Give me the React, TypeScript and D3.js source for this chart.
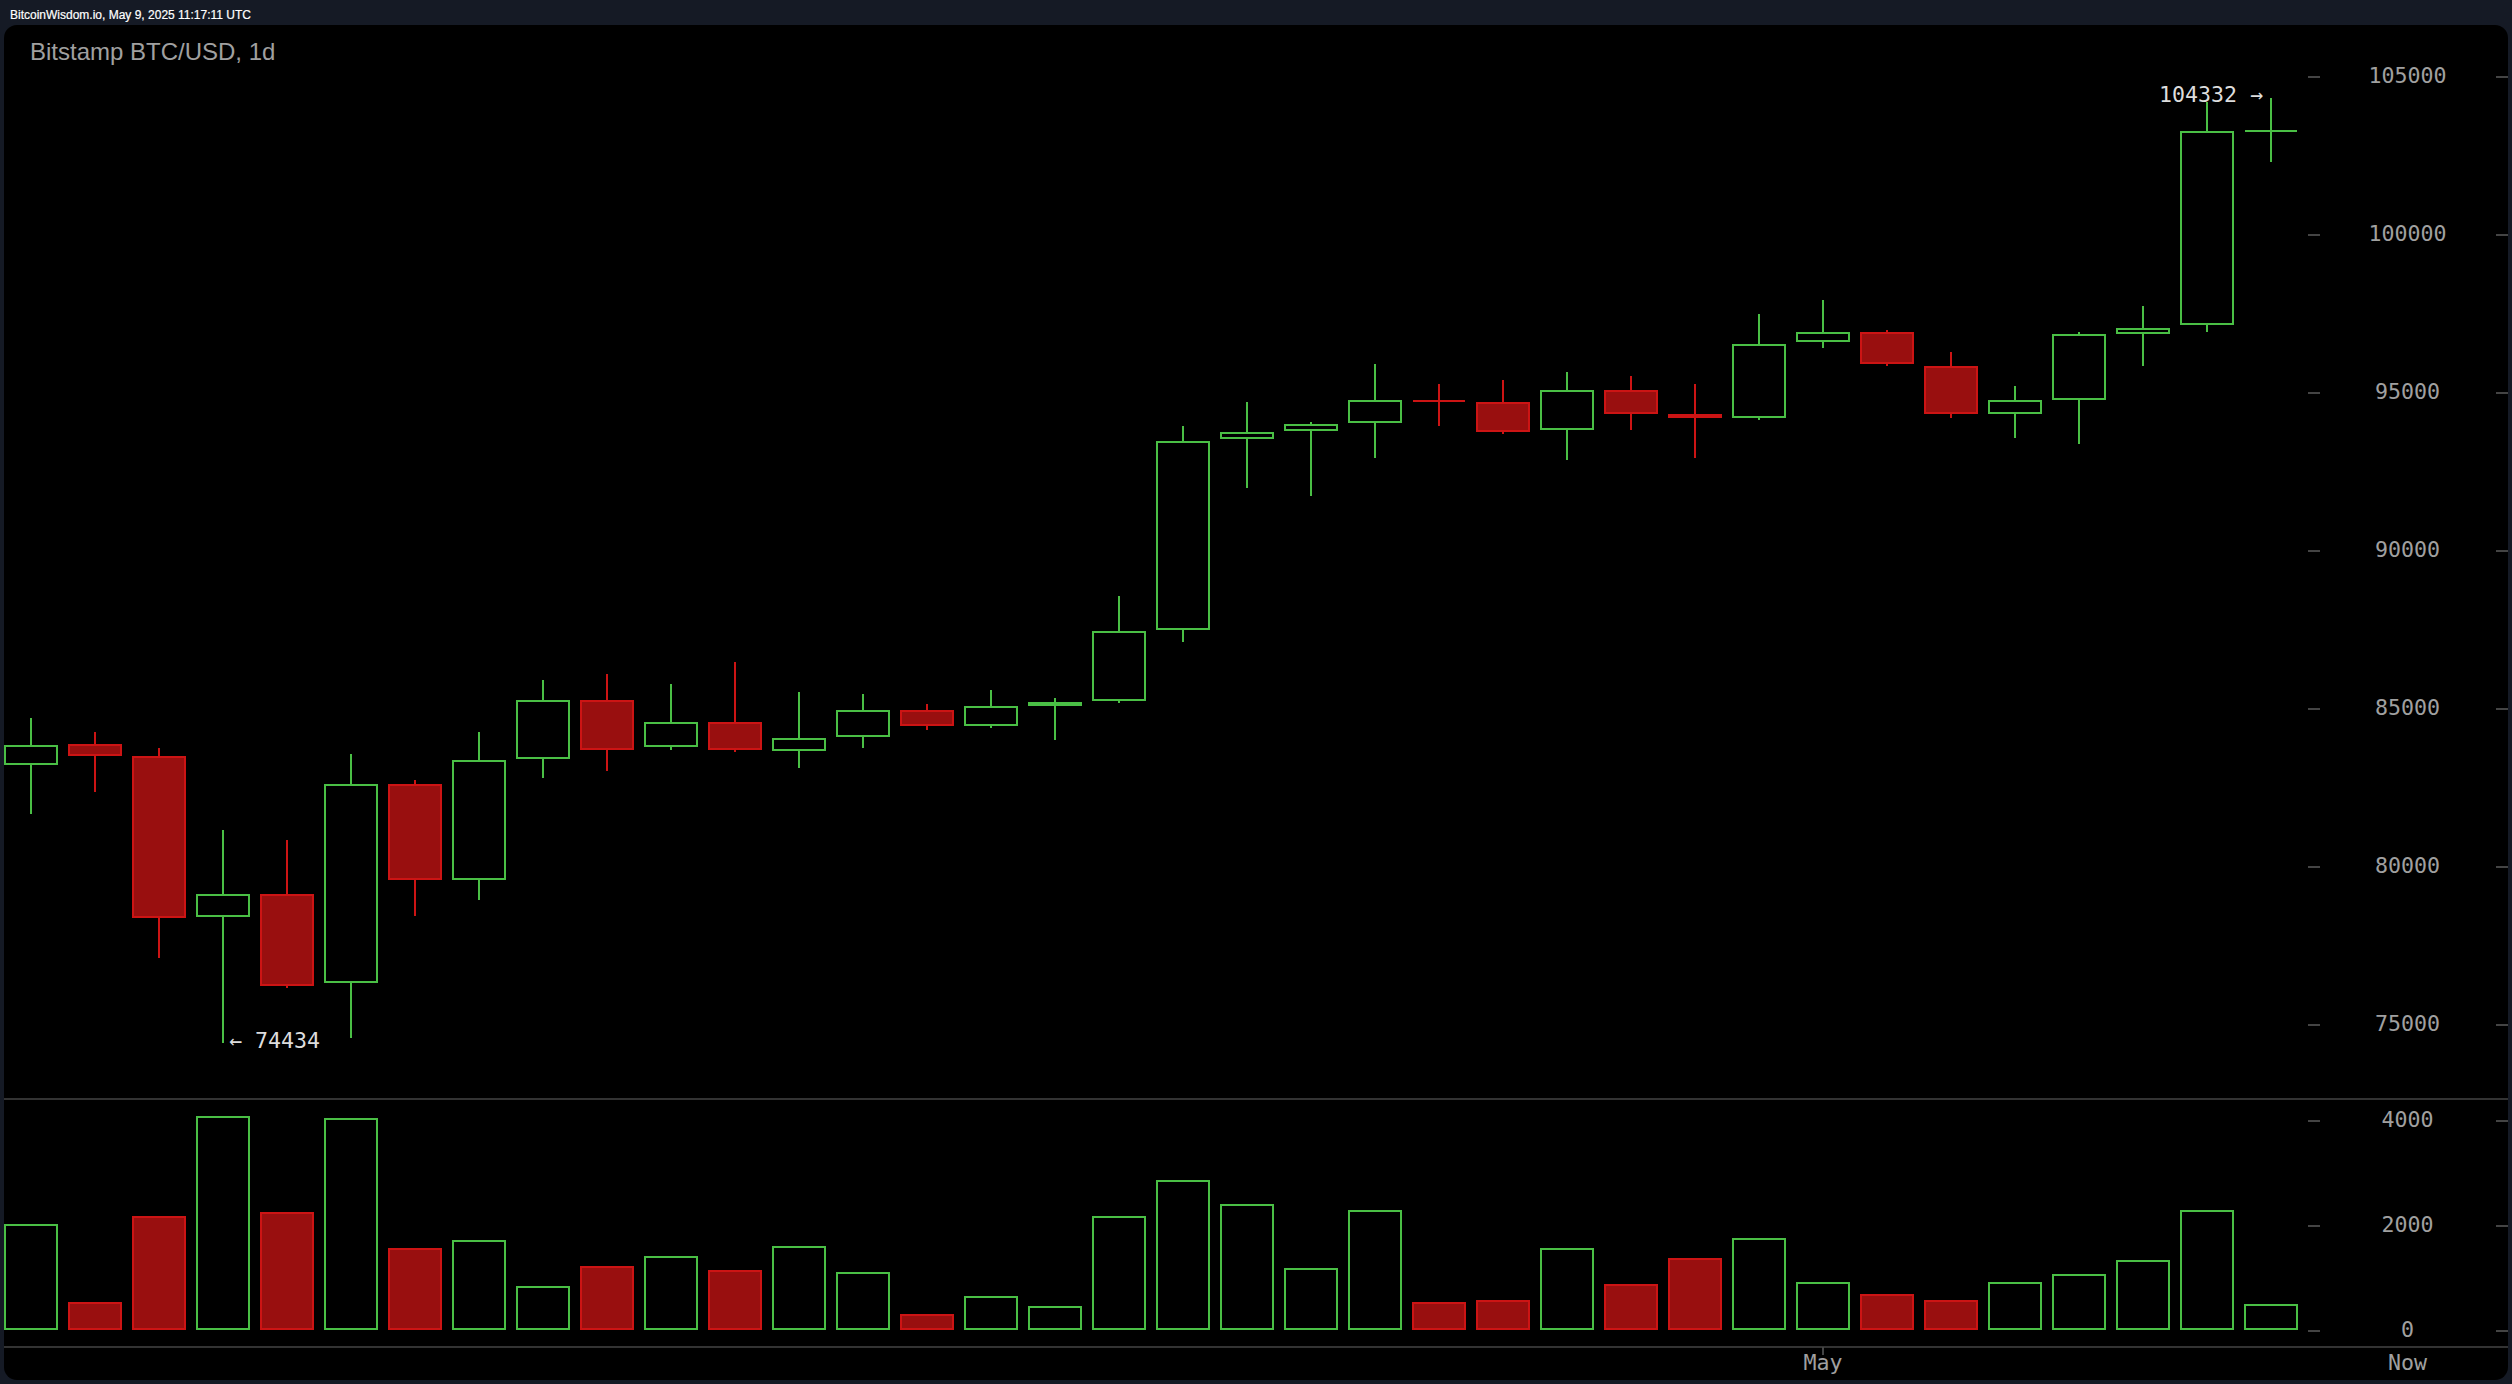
import React from "react";
import * as d3 from "d3";

const opens = [83218,83883,83503,78408,79136,76320,82617,79598,83408,85275,83788,84579,83661,84104,84959,84471,85105,85253,87512,93535,93788,94041,94760,94706,93839,95085,94335,94218,96623,96921,95845,94345,94788,96877,97146,103280];
const highs = [84715,84272,83766,81171,80854,83576,82753,84272,85918,86108,85791,86487,85538,85475,85158,85601,85348,88576,93956,94715,94082,95918,95285,95411,95665,95538,95285,97500,97943,96994,96297,95221,96930,97753,104209,104332];
const lows = [81677,82373,77120,74434,76180,74589,78449,78956,82816,83051,83703,83639,83133,83766,84335,84399,84019,85190,87108,91994,91740,92943,93956,93703,92880,93829,92943,94146,96424,95854,94209,93576,93386,95854,96943,102300];
const closes = [83870,83522,78396,79136,76243,82617,79598,83376,85275,83712,84579,83712,84073,84959,84471,85085,85212,87468,93490,93756,94009,94769,94735,93775,95085,94345,94209,96541,96921,95927,94345,94769,96858,97047,103291,103300];
const volumes = [2019,533,2171,4076,2248,4038,1562,1714,838,1219,1410,1143,1600,1105,305,648,457,2171,2857,2400,1181,2286,533,571,1562,876,1371,1752,914,686,571,914,1067,1333,2286,495];
const priceTicks = [75000,80000,85000,90000,95000,100000,105000];
const volumeTicks = [0,2000,4000];
const timeLabelIndex = 28;
const timeLabel = "May";
const nowLabel = "Now";
const title = "Bitstamp BTC/USD, 1d";
const header = "BitcoinWisdom.io, May 9, 2025 11:17:11 UTC";
const highLabel = "104332 →";
const lowLabel = "← 74434";
const highLabelIndex = 35;
const lowLabelIndex = 3;

const W = 2512;
const H = 1384;
const GREEN = "#4abf45";
const RED = "#cc1414";
const RED_FILL = "#990f0f";
const MONO = "'DejaVu Sans Mono', monospace";
const SANS = "'Liberation Sans', Arial, sans-serif";

const x = d3.scaleLinear().domain([0, opens.length - 1]).range([31, 2271]);
const yPrice = d3.scaleLinear().domain([75000, 105000]).range([1025, 77]);
const yVol = d3.scaleLinear().domain([0, 4000]).range([1331, 1121]);

function boxPath(x0: number, x1: number, y0: number, y1: number) {
  const p = d3.path();
  p.moveTo(x0, y0);
  p.lineTo(x1, y0);
  p.lineTo(x1, y1);
  p.lineTo(x0, y1);
  p.closePath();
  return p.toString();
}

export default function App() {
  const sessions = d3.range(opens.length);
  return (
    <svg
      width={W}
      height={H}
      viewBox={`0 0 ${W} ${H}`}
      style={{ position: "absolute", left: 0, top: 0, display: "block" }}
    >
      <rect x={0} y={0} width={W} height={H} fill="#151a25" />
      <text x={10} y={18.5} fontFamily={SANS} fontSize={12} fill="#ffffff" stroke="#ffffff" strokeWidth={0.2}>{header}</text>
      <rect x={4} y={25} width={2504} height={1355} rx={13} ry={13} fill="#000000" />
      <text x={30} y={60} fontFamily={SANS} fontSize={24} fill="#a0a0a0">{title}</text>

      <g shapeRendering="crispEdges">
        <line x1={4} x2={2508} y1={1099} y2={1099} stroke="#333333" strokeWidth={2} />
        <line x1={4} x2={2508} y1={1347} y2={1347} stroke="#333333" strokeWidth={2} />
        <line x1={x(timeLabelIndex)} x2={x(timeLabelIndex)} y1={1347} y2={1355} stroke="#444444" strokeWidth={1.5} />
        {[...priceTicks.map((t) => yPrice(t)), ...volumeTicks.map((t) => yVol(t))].map((yy, i) => (
          <g key={i} stroke="#444444" strokeWidth={2}>
            <line x1={2308} x2={2320} y1={yy} y2={yy} />
            <line x1={2496} x2={2508} y1={yy} y2={yy} />
          </g>
        ))}
      </g>

      <g fontFamily={MONO} fontSize={21.6} fill="#a0a0a0" textAnchor="middle">
        {priceTicks.map((t) => (
          <text key={t} x={2407.5} y={yPrice(t) + 6}>{t}</text>
        ))}
        {volumeTicks.map((t) => (
          <text key={t} x={2407.5} y={yVol(t) + 6}>{t}</text>
        ))}
        <text x={x(timeLabelIndex)} y={1370}>{timeLabel}</text>
        <text x={2407.5} y={1370}>{nowLabel}</text>
      </g>

      <g shapeRendering="crispEdges">
        {sessions.map((i) => {
          const up = closes[i] >= opens[i];
          const color = up ? GREEN : RED;
          const top = yPrice(Math.max(opens[i], closes[i]));
          const bot = yPrice(Math.min(opens[i], closes[i]));
          const thin = bot - top < 2;
          const mid = (top + bot) / 2;
          return (
            <g key={i}>
              <line x1={x(i)} x2={x(i)} y1={yPrice(highs[i])} y2={yPrice(lows[i])} stroke={color} strokeWidth={2} />
              <path
                d={thin ? boxPath(x(i) - 26, x(i) + 26, mid, mid) : boxPath(x(i) - 26, x(i) + 26, top + 1, bot - 1)}
                fill={up ? "#000000" : RED_FILL}
                stroke={color}
                strokeWidth={2}
              />
            </g>
          );
        })}
        {sessions.map((i) => {
          const up = closes[i] >= opens[i];
          return (
            <path
              key={i}
              d={boxPath(x(i) - 26, x(i) + 26, yVol(volumes[i]), yVol(0) - 2)}
              fill={up ? "#000000" : RED_FILL}
              stroke={up ? GREEN : RED}
              strokeWidth={2}
            />
          );
        })}
      </g>

      <g fontFamily={MONO} fontSize={21.6} fill="#dddddd">
        <text x={x(highLabelIndex) - 8} y={yPrice(highs[highLabelIndex]) + 4} textAnchor="end">{highLabel}</text>
        <text x={x(lowLabelIndex) + 6} y={yPrice(lows[lowLabelIndex]) + 5}>{lowLabel}</text>
      </g>
    </svg>
  );
}
